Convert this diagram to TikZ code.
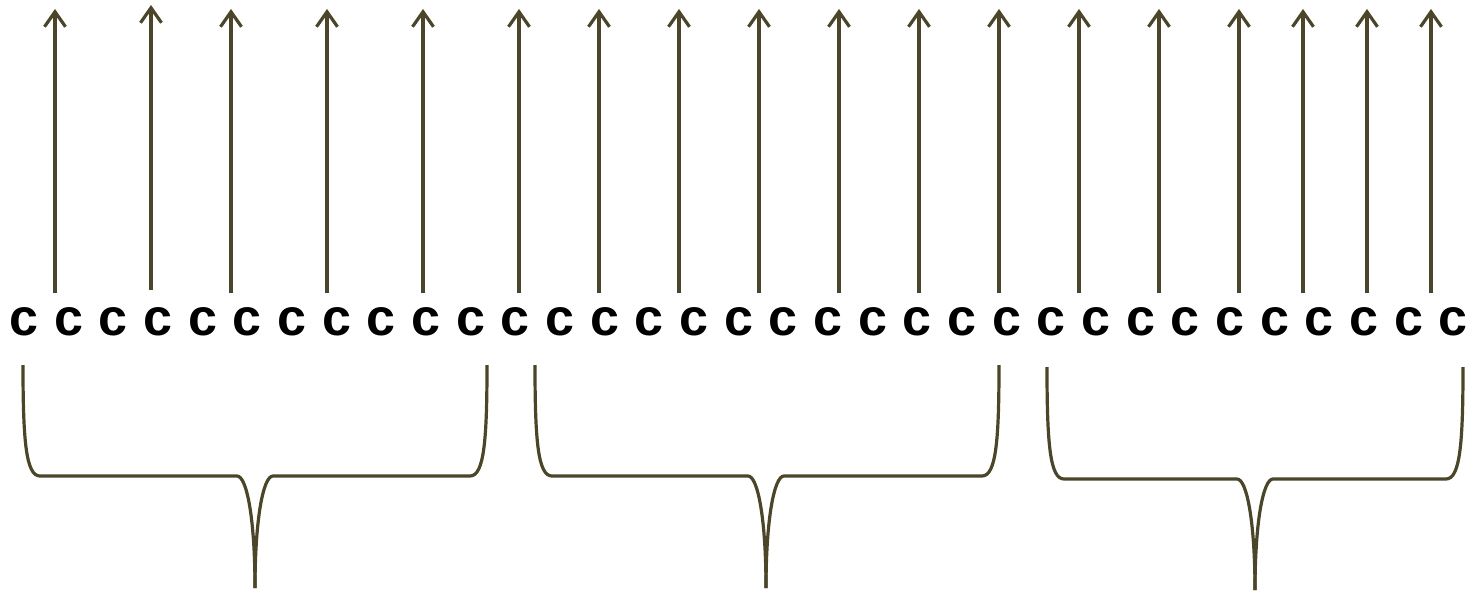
\documentclass[tikz,border=0pt]{standalone}
\usepackage{fontspec}
\setmainfont{Liberation Sans}
\usetikzlibrary{arrows.meta}
\definecolor{stemcol}{RGB}{75,69,41}
\tikzset{>/.tip={Straight Barb[length=15pt,width=21pt]},
  upline/.style={->,draw=stemcol,line width=3.2pt},
  bracket/.style={draw=stemcol,line width=3.2pt},
  letter/.style={inner sep=0pt,anchor=base,font=\fontsize{52}{52}\selectfont\bfseries}}

\begin{document}
\begin{tikzpicture}[x=1pt,y=-1pt]
\useasboundingbox (0,0) rectangle (1473,591);

% row of letters
\foreach \i in {0,...,32}
  \node[letter] (c\i) at (24+44.66*\i,335) {c};

% arrows going up
\foreach \n/\x/\t/\b in {1/55/9/293, 2/151/5/290, 3/231/9/293, 4/327/9/293,
    5/423/9/293, 6/519/9/293, 7/599/9/293, 8/679/9/293, 9/759/9/293,
    10/839/9/293, 11/919/9/293, 12/999/9/293, 13/1079/9/293, 14/1159/9/293,
    15/1239/9/293, 16/1303/9/293, 17/1367/9/293, 18/1431/9/293}{
  \coordinate (s\n) at (\x,\b);
  \coordinate (e\n) at (\x,\t);
  \draw[upline] (s\n) -- (e\n);
}

% braces below
\foreach \l/\m/\r/\t/\h/\b in {23/255/487/365/476/588, 535/766/999/365/476/588,
    1047/1255/1463/367/479/590}{
  \draw[bracket] (\l,\t) .. controls (\l,\h-35) and (\l+3,\h) .. (\l+17,\h)
    -- (\m-18,\h) .. controls (\m-8,\h) and (\m,\h+44) .. (\m,\b);
  \draw[bracket] (\m,\b) .. controls (\m,\h+44) and (\m+8,\h) .. (\m+18,\h)
    -- (\r-17,\h) .. controls (\r-3,\h) and (\r,\h-35) .. (\r,\t);
}
\end{tikzpicture}
\end{document}
